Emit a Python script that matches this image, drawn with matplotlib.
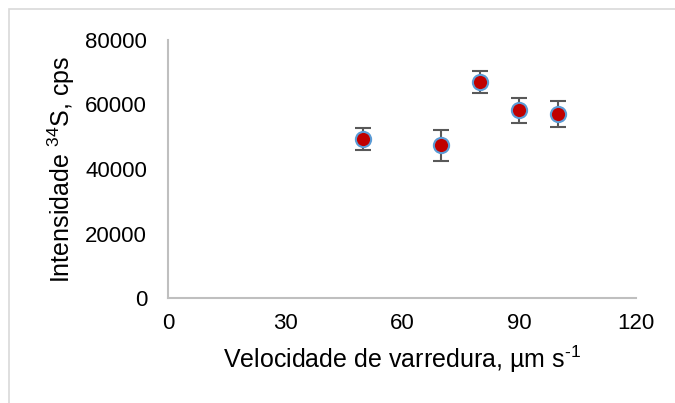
import matplotlib.pyplot as plt
from matplotlib.patches import Rectangle

plt.rcParams['font.family'] = ['Liberation Sans', 'DejaVu Sans']
plt.rcParams['mathtext.fontset'] = 'custom'
plt.rcParams['mathtext.rm'] = 'Liberation Sans'
plt.rcParams['mathtext.it'] = 'Liberation Sans'

# scan speed vs 34S signal
velocidade = [50, 70, 80, 90, 100]
intensidade = [49300, 47300, 67000, 58200, 57000]
desvio = [3300, 4700, 3300, 3800, 4100]

x_ticks = [0, 30, 60, 90, 120]
y_ticks = [0, 20000, 40000, 60000, 80000]

fig = plt.figure(figsize=(6.75, 4.03), dpi=100)

# chart-area frame (partly cut off on the right and bottom)
W, H = 675, 403
fig.patches.append(Rectangle((8.5 / W, -0.1), 1.2, (H - 9.5) / H + 0.1,
                             transform=fig.transFigure, fill=False,
                             edgecolor='#D9D9D9', linewidth=1.2))

ax = fig.add_axes([168 / W, (H - 298) / H, (636 - 168) / W, (298 - 40) / H])

ax.errorbar(velocidade, intensidade, yerr=desvio, fmt='none',
            ecolor='#595959', elinewidth=1.5, capsize=6, capthick=1.5, zorder=2)
ax.scatter(velocidade, intensidade, s=120, color='#C00000',
           edgecolor='#5B9BD5', linewidth=1.5, zorder=3)

ax.set_xlim(0, 120)
ax.set_ylim(0, 80000)
ax.set_xticks(x_ticks)
ax.set_yticks(y_ticks)
ax.tick_params(length=0, labelsize=16, colors='black')
ax.tick_params(axis='y', pad=15)
ax.tick_params(axis='x', pad=11)

for s in ['top', 'right']:
    ax.spines[s].set_visible(False)
for s in ['left', 'bottom']:
    ax.spines[s].set_color('#BFBFBF')
    ax.spines[s].set_linewidth(1.5)

ax.set_xlabel('Velocidade de varredura, µm s$^{\\mathrm{\u2010}\\mathrm{1}}$', fontsize=18, labelpad=7)
ax.set_ylabel('Intensidade $^{\\mathrm{34}}$S, cps', fontsize=18, labelpad=6)

fig.savefig('out.png', dpi=100)
